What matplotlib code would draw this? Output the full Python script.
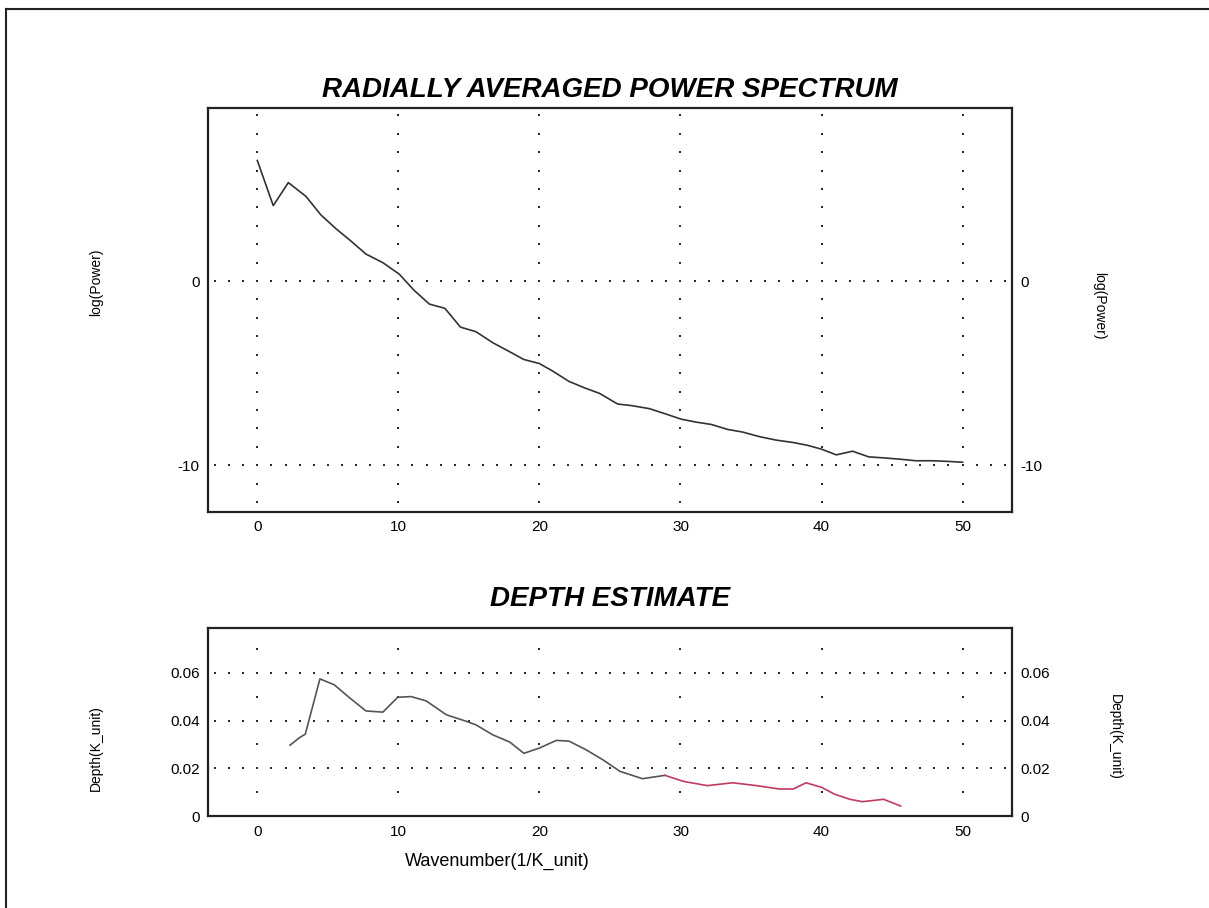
"""Radially averaged power spectrum and depth estimate panels."""

import matplotlib

matplotlib.use("Agg")
import matplotlib.pyplot as plt
import numpy as np
from matplotlib.lines import Line2D

plt.rcParams["font.family"] = ["Liberation Sans", "DejaVu Sans"]
plt.rcParams["axes.unicode_minus"] = False

# power spectrum
power_k = [0, 1.13, 2.2, 3.45, 4.5, 5.57, 6.6, 7.7, 8.9, 10.06, 11.1, 12.2,
           13.3, 14.4, 15.5, 16.7, 17.87, 18.9, 20.0, 20.9, 22.1, 23.2, 24.26,
           25.55, 26.5, 27.8, 29.0, 30.05, 31.1, 32.2, 33.35, 34.4, 35.6, 36.8,
           38.0, 39.0, 40.0, 41.05, 42.2, 43.35, 44.35, 45.5, 46.7, 47.9, 49.1,
           50.0]
log_power = [6.55, 4.1, 5.35, 4.6, 3.6, 2.85, 2.2, 1.47, 1.0, 0.38, -0.49,
             -1.25, -1.48, -2.5, -2.75, -3.35, -3.83, -4.26, -4.48, -4.87,
             -5.45, -5.8, -6.1, -6.68, -6.76, -6.93, -7.23, -7.5, -7.66, -7.79,
             -8.06, -8.2, -8.45, -8.64, -8.77, -8.92, -9.13, -9.44, -9.24,
             -9.55, -9.6, -9.67, -9.76, -9.76, -9.8, -9.84]

# depth estimate
depth_k = [2.32, 2.98, 3.4, 4.44, 5.46, 6.5, 7.7, 8.9, 9.95, 10.9, 11.97, 13.4,
           14.8, 15.5, 16.7, 17.9, 18.9, 20.0, 21.2, 22.1, 23.3, 24.5, 25.7,
           27.3, 28.9, 30.2, 31.9, 33.7, 35.4, 37.0, 38.0, 38.9, 40.0, 40.9,
           42.0, 42.9, 44.4, 45.6]
depth = [0.0297, 0.0328, 0.0343, 0.0574, 0.0549, 0.0497, 0.044, 0.0435,
         0.0497, 0.05, 0.0482, 0.0424, 0.0397, 0.0382, 0.034, 0.031, 0.0263,
         0.0285, 0.0317, 0.0314, 0.0278, 0.0236, 0.0188, 0.0157, 0.0171,
         0.0146, 0.0128, 0.014, 0.0128, 0.0114, 0.0114, 0.014, 0.0121, 0.0093,
         0.0071, 0.0061, 0.0071, 0.0043]
red_from = 28.9

x_ticks = [0, 10, 20, 30, 40, 50]
power_ticks = [0, -10]
depth_ticks = [0, 0.02, 0.04, 0.06]
depth_tick_labels = ["0", "0.02", "0.04", "0.06"]

TITLE_FONT = dict(family=["Liberation Sans Narrow", "Liberation Sans"],
                  weight="bold", style="italic", size=20)


def dotted_grid(ax, xs, ys, xdot, ydot):
    """Dot grid: one dot per unit along each tick line."""
    x0, x1 = ax.get_xlim()
    y0, y1 = ax.get_ylim()
    hx = np.arange(np.ceil(x0 / xdot), np.floor(x1 / xdot) + 1) * xdot
    vy = np.arange(np.ceil(y0 / ydot), np.floor(y1 / ydot) + 1) * ydot
    vy = vy[(vy > y0 + 1e-9) & (vy < y1)]
    for x in xs:
        ax.plot(np.full_like(vy, x), vy, ls="none", marker="s", ms=2.1,
                mew=0, color="#2a2a2a", zorder=1)
    for y in ys:
        ax.plot(hx, np.full_like(hx, y), ls="none", marker="s", ms=2.1,
                mew=0, color="#2a2a2a", zorder=1)


def style_axes(ax):
    for sp in ax.spines.values():
        sp.set_linewidth(1.6)
        sp.set_color("#222222")
    ax.tick_params(length=0, labelsize=11, labelright=True, pad=6)


fig = plt.figure(figsize=(12.09, 9.08), dpi=100)

# top panel
ax1 = fig.add_axes([0.172, 0.436, 0.665, 0.445])
ax1.set_xlim(-3.5, 53.5)
ax1.set_ylim(-12.55, 9.4)
ax1.plot(power_k, log_power, color="#333333", lw=1.2, zorder=3)
ax1.set_xticks(x_ticks)
ax1.set_yticks(power_ticks)
dotted_grid(ax1, x_ticks, power_ticks, 1, 1)
style_axes(ax1)
ax1.text(-0.139, 0.569, "log(Power)", transform=ax1.transAxes, rotation=90,
         ha="center", va="center", fontsize=10)
ax1.text(1.109, 0.51, "log(Power)", transform=ax1.transAxes, rotation=-90,
         ha="center", va="center", fontsize=10)
ax1.set_title("RADIALLY AVERAGED POWER SPECTRUM", pad=8, **TITLE_FONT)

# bottom panel
ax2 = fig.add_axes([0.172, 0.101, 0.665, 0.207])
ax2.set_xlim(-3.5, 53.5)
ax2.set_ylim(0, 0.0785)
dk = np.array(depth_k)
dv = np.array(depth)
dark = dk <= red_from
red = dk >= red_from
ax2.plot(dk[dark], dv[dark], color="#555555", lw=1.2, zorder=3)
ax2.plot(dk[red], dv[red], color="#c23b5e", lw=1.2, zorder=3)
ax2.set_xticks(x_ticks)
ax2.set_yticks(depth_ticks, depth_tick_labels)
dotted_grid(ax2, x_ticks, depth_ticks[1:], 1, 0.01)
style_axes(ax2)
ax2.text(-0.139, 0.362, "Depth(K_unit)", transform=ax2.transAxes, rotation=90,
         ha="center", va="center", fontsize=10)
ax2.text(1.128, 0.42, "Depth(K_unit)", transform=ax2.transAxes, rotation=-90,
         ha="center", va="center", fontsize=10)
ax2.text(0.36, -0.24, "Wavenumber(1/K_unit)", transform=ax2.transAxes,
         ha="center", va="center", fontsize=13)
ax2.set_title("DEPTH ESTIMATE", pad=16, **TITLE_FONT)

# page frame, top and left edges only
fig.add_artist(Line2D([0.005, 1.0], [0.990, 0.990], color="#222222", lw=1.5))
fig.add_artist(Line2D([0.005, 0.005], [0.0, 0.990], color="#222222", lw=1.5))

fig.savefig("out.png", dpi=100)
